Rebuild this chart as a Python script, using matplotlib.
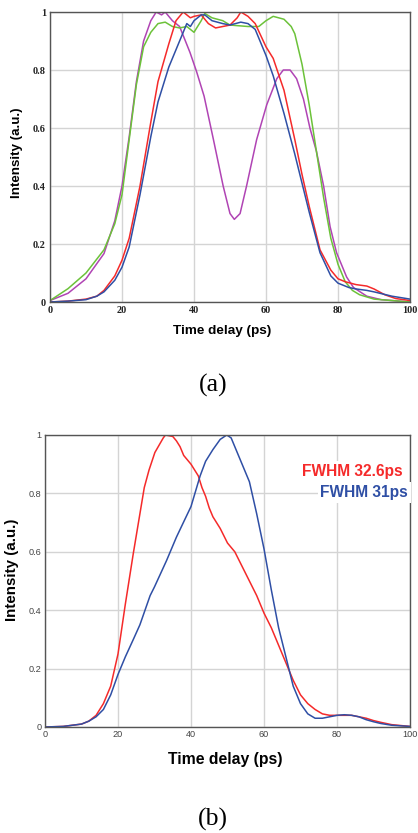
import matplotlib
matplotlib.use("Agg")
import matplotlib.pyplot as plt

# ---- panel (a) data ----
t_red_a = [0, 5, 10, 13, 15, 18, 20, 22, 25, 28, 30, 33, 35, 37, 39, 40, 42, 44, 46, 48, 50, 52, 53, 55, 57, 60, 62, 65, 68, 70, 72, 75, 78, 80, 82, 85, 88, 90, 93, 96, 100]
i_red_a = [0.0, 0.003, 0.01, 0.02, 0.04, 0.09, 0.144, 0.22, 0.40, 0.62, 0.76, 0.89, 0.97, 1.0, 0.98, 0.985, 0.99, 0.96, 0.945, 0.95, 0.955, 0.98, 1.0, 0.985, 0.96, 0.88, 0.84, 0.73, 0.56, 0.44, 0.33, 0.18, 0.11, 0.08, 0.07, 0.06, 0.055, 0.045, 0.025, 0.012, 0.005]

t_blue_a = [0, 5, 10, 13, 15, 18, 20, 22, 25, 28, 30, 33, 35, 37, 38, 39, 40, 42, 43, 45, 48, 50, 53, 55, 57, 58, 60, 62, 65, 68, 70, 72, 75, 78, 80, 83, 85, 88, 90, 95, 100]
i_blue_a = [0.0, 0.003, 0.008, 0.02, 0.035, 0.075, 0.12, 0.19, 0.37, 0.57, 0.69, 0.81, 0.87, 0.93, 0.96, 0.95, 0.97, 0.99, 0.99, 0.97, 0.96, 0.955, 0.965, 0.96, 0.94, 0.91, 0.85, 0.78, 0.65, 0.51, 0.41, 0.31, 0.17, 0.09, 0.065, 0.05, 0.045, 0.04, 0.035, 0.02, 0.01]

t_green_a = [0, 5, 10, 15, 18, 20, 22, 24, 26, 28, 30, 32, 34, 36, 38, 40, 42, 43, 45, 48, 50, 55, 58, 60, 62, 65, 67, 68, 70, 72, 74, 76, 78, 80, 82, 84, 86, 90, 95, 100]
i_green_a = [0.005, 0.046, 0.10, 0.18, 0.27, 0.37, 0.56, 0.75, 0.88, 0.93, 0.96, 0.965, 0.95, 0.945, 0.95, 0.93, 0.97, 0.995, 0.98, 0.97, 0.955, 0.95, 0.95, 0.97, 0.985, 0.975, 0.95, 0.925, 0.82, 0.68, 0.52, 0.36, 0.22, 0.13, 0.07, 0.04, 0.025, 0.01, 0.005, 0.0]

t_mag_a = [0, 5, 10, 15, 18, 20, 22, 24, 26, 28, 29.5, 31, 32, 34, 36, 38.9, 40.7, 42.8, 45.4, 48.1, 50, 51.2, 52.8, 54.6, 57.4, 60.2, 63, 64.8, 66.7, 68.5, 70.4, 72.2, 74, 76, 77.8, 79.6, 82.4, 84.3, 88, 92, 100]
i_mag_a = [0.005, 0.03, 0.08, 0.167, 0.28, 0.40, 0.57, 0.76, 0.90, 0.97, 1.0, 0.99, 1.0, 0.97, 0.95, 0.86, 0.795, 0.71, 0.56, 0.40, 0.305, 0.285, 0.305, 0.40, 0.56, 0.68, 0.77, 0.80, 0.80, 0.77, 0.70, 0.60, 0.52, 0.40, 0.26, 0.17, 0.086, 0.05, 0.02, 0.008, 0.0]

# ---- panel (b) data ----
t_red_b = [0, 5, 10, 12, 14, 16, 18, 20, 22, 24.2, 27.2, 28.5, 30.1, 32.4, 33, 35, 36, 37, 38, 39, 40, 42, 43, 44, 45, 46, 48, 50, 52, 54, 56, 58, 60, 62, 64, 66, 68, 70, 72, 74, 76, 78, 80, 82, 84, 86, 88, 90, 92, 95, 100]
i_red_b = [0.0, 0.002, 0.01, 0.02, 0.04, 0.08, 0.14, 0.25, 0.42, 0.595, 0.82, 0.88, 0.94, 0.99, 1.0, 0.995, 0.98, 0.96, 0.93, 0.915, 0.90, 0.86, 0.82, 0.79, 0.75, 0.72, 0.68, 0.63, 0.60, 0.55, 0.50, 0.45, 0.39, 0.34, 0.28, 0.22, 0.16, 0.11, 0.08, 0.06, 0.045, 0.04, 0.04, 0.04, 0.04, 0.035, 0.03, 0.022, 0.016, 0.008, 0.002]

t_blue_b = [0, 5, 10, 12, 14, 16, 18, 20, 22, 24.2, 26, 28.8, 30, 33.3, 36, 37.9, 40, 42.5, 44, 46, 48, 49.8, 51, 52, 54, 56, 58, 60, 62, 64, 66.8, 68, 70, 72, 74, 76, 78, 80, 82, 84, 86, 88, 90, 92, 95, 100]
i_blue_b = [0.0, 0.002, 0.01, 0.02, 0.035, 0.06, 0.11, 0.18, 0.24, 0.30, 0.35, 0.45, 0.48, 0.57, 0.65, 0.70, 0.755, 0.86, 0.91, 0.95, 0.985, 1.0, 0.99, 0.96, 0.90, 0.84, 0.73, 0.61, 0.47, 0.34, 0.20, 0.14, 0.08, 0.045, 0.03, 0.03, 0.035, 0.04, 0.042, 0.04, 0.035, 0.025, 0.018, 0.012, 0.006, 0.002]

x_ticks = [0, 20, 40, 60, 80, 100]
y_ticks = [0, 0.2, 0.4, 0.6, 0.8, 1]
y_tick_labels = ["0", "0.2", "0.4", "0.6", "0.8", "1"]

RED = "#f52a2a"
BLUE = "#2f4fa5"
GREEN = "#6cc23a"
MAG = "#b044b4"
SANS = "Liberation Sans"
SERIF = "Liberation Serif"

fig = plt.figure(figsize=(4.18, 8.33), dpi=100)

def style(ax, family, bold_ticks, size, pad, color):
    ax.set_xlim(0, 100)
    ax.set_ylim(0, 1)
    ax.set_xticks(x_ticks)
    ax.set_xticklabels([str(v) for v in x_ticks])
    ax.set_yticks(y_ticks)
    ax.set_yticklabels(y_tick_labels)
    ax.tick_params(length=0, pad=pad, labelsize=size, colors=color)
    for lab in ax.get_xticklabels() + ax.get_yticklabels():
        lab.set_family(family)
        if bold_ticks:
            lab.set_fontweight("bold")
    ax.grid(True, color="#d4d4d4", linewidth=1.0)
    ax.set_axisbelow(True)
    for sp in ax.spines.values():
        sp.set_color("#555555")
        sp.set_linewidth(1.0)

# panel (a)
ax1 = fig.add_axes([50/418, 1-302/833, 360/418, 290/833])
style(ax1, SERIF, True, 7.4, 3, "#222222")
ax1.plot(t_mag_a, i_mag_a, color=MAG, lw=1.1)
ax1.plot(t_green_a, i_green_a, color=GREEN, lw=1.1)
ax1.plot(t_red_a, i_red_a, color=RED, lw=1.1)
ax1.plot(t_blue_a, i_blue_a, color=BLUE, lw=1.1)
ax1.set_xlabel("Time delay (ps)", fontsize=9.7, fontweight="bold", family=SANS, va="center")
ax1.xaxis.set_label_coords(0.479, -0.100)
ax1.set_ylabel("Intensity (a.u.)", fontsize=9.6, fontweight="bold", family=SANS, va="center")
ax1.yaxis.set_label_coords(-0.0917, 0.514)

# panel (b)
ax2 = fig.add_axes([45/418, 1-727/833, 365/418, 292/833])
style(ax2, SANS, False, 6.6, 2.5, "#444444")
ax2.plot(t_red_b, i_red_b, color=RED, lw=1.1)
ax2.plot(t_blue_b, i_blue_b, color=BLUE, lw=1.1)
ax2.set_xlabel("Time delay (ps)", fontsize=11.3, fontweight="bold", family=SANS, va="center")
ax2.xaxis.set_label_coords(0.495, -0.1096)
ax2.set_ylabel("Intensity (a.u.)", fontsize=10.9, fontweight="bold", family=SANS, va="center")
ax2.yaxis.set_label_coords(-0.0904, 0.538)
ax2.text(0.981, 0.875, "FWHM 32.6ps", transform=ax2.transAxes, color=RED,
         fontsize=11.2, fontweight="bold", family=SANS, ha="right", va="center",
         bbox=dict(facecolor="white", edgecolor="none", pad=2.0), clip_on=False)
ax2.text(0.995, 0.803, "FWHM 31ps", transform=ax2.transAxes, color=BLUE,
         fontsize=11.2, fontweight="bold", family=SANS, ha="right", va="center",
         bbox=dict(facecolor="white", edgecolor="none", pad=2.0), clip_on=False)

fig.text(213/418, 1-385/833, "(a)", family=SERIF, fontsize=18.5, ha="center", va="center")
fig.text(213/418, 1-819/833, "(b)", family=SERIF, fontsize=18.5, ha="center", va="center")

fig.savefig("out.png", dpi=100)
